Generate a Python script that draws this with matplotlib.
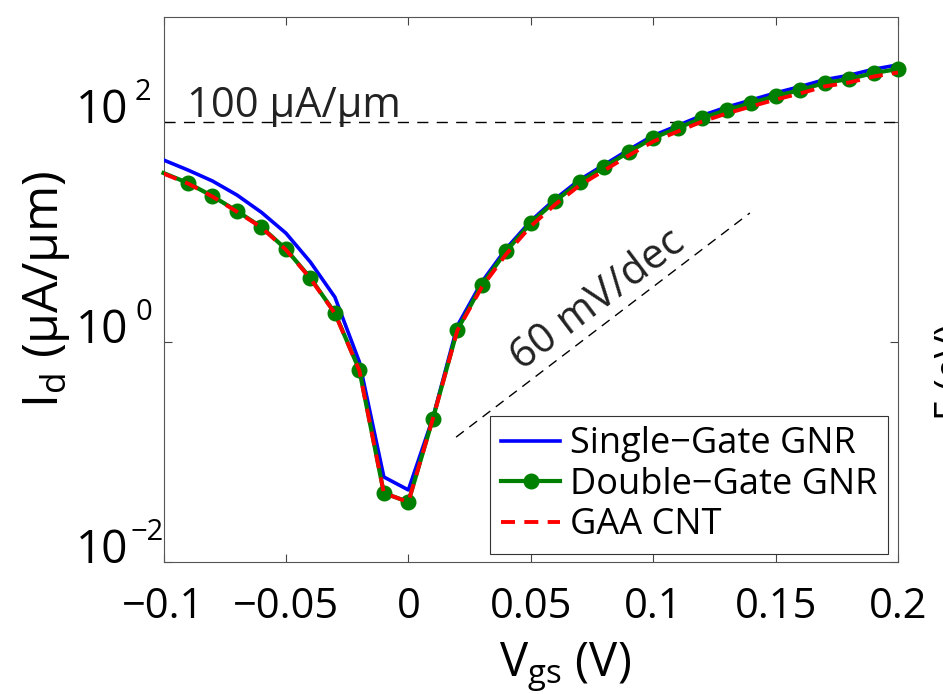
import matplotlib
matplotlib.use("Agg")
import matplotlib.pyplot as plt
from matplotlib.ticker import FixedLocator, NullLocator

plt.rcParams['font.family'] = ['Open Sans', 'DejaVu Sans']
plt.rcParams['mathtext.fontset'] = 'custom'
plt.rcParams['mathtext.rm'] = 'Open Sans'
plt.rcParams['mathtext.it'] = 'Open Sans:italic'
plt.rcParams['mathtext.bf'] = 'Open Sans:bold'

# ---------------- data ----------------
vgs = [-0.10, -0.09, -0.08, -0.07, -0.06, -0.05, -0.04, -0.03, -0.02, -0.01,
       0.00, 0.01, 0.02, 0.03, 0.04, 0.05, 0.06, 0.07, 0.08, 0.09,
       0.10, 0.11, 0.12, 0.13, 0.14, 0.15, 0.16, 0.17, 0.18, 0.19, 0.20]

single_gate = [45.2, 36.6, 29.1, 21.7, 15.1, 9.77, 5.33, 2.56, 0.66, 0.0593,
               0.0452, 0.204, 1.40, 3.51, 7.08, 12.6, 20.0, 29.9, 40.9, 56.0,
               75.3, 92.9, 114.8, 136.5, 158.5, 184.0, 210.0, 242.7, 266.0, 302.0, 331.0]

double_gate = [34.4, 27.9, 21.2, 15.5, 11.1, 7.0, 3.82, 1.84, 0.556, 0.0424,
               0.0351, 0.200, 1.285, 3.30, 6.71, 12.1, 19.1, 28.5, 39.0, 53.3,
               71.6, 88.1, 108.6, 128.5, 148.9, 172.2, 195.4, 226.5, 246.0, 278.6, 303.4]

gaa_cnt = [34.0, 27.6, 21.0, 15.3, 11.0, 6.9, 3.78, 1.82, 0.55, 0.0424,
           0.0351, 0.200, 1.27, 3.15, 6.3, 11.3, 17.8, 26.6, 36.3, 49.6,
           66.5, 82.0, 101.0, 119.5, 138.5, 160.0, 181.7, 210.6, 228.8, 259.0, 282.0]

series_labels = ['Single\u2212Gate GNR', 'Double\u2212Gate GNR', 'GAA CNT']

xticks = [-0.1, -0.05, 0, 0.05, 0.1, 0.15, 0.2]
xticklabels = ['\u22120.1', '\u22120.05', '0', '0.05', '0.1', '0.15', '0.2']
yticks = [1e-2, 1e0, 1e2]
ytick_exponents = ['\u22122', '0', '2']

ref_level = 100.0           # 100 uA/um reference
slope_x = [0.0195, 0.1395]  # 60 mV/dec guide line
slope_y = [0.1365, 14.9]

# ---------------- figure ----------------
fig = plt.figure(figsize=(9.43, 6.94), dpi=100)
ax = fig.add_axes([163.5 / 943, 1 - 562 / 694, (898 - 163.5) / 943, (562 - 17) / 694])

ax.set_yscale('log')
ax.set_xlim(-0.1, 0.2)
ax.set_ylim(1e-2, 10 ** 2.955)

ax.plot(vgs, single_gate, color=(0, 0, 1), lw=2.6, label=series_labels[0], zorder=3)
ax.plot(vgs, double_gate, color=(0, 0.5, 0), lw=3.0, marker='o', markersize=10.5,
        markevery=slice(1, None), label=series_labels[1], zorder=4, clip_on=False)
ax.plot(vgs, gaa_cnt, color=(1, 0, 0), lw=2.8, linestyle=(0, (3.6, 2.4)),
        label=series_labels[2], zorder=5)

ax.axhline(ref_level, color='black', lw=1.0, linestyle=(0, (8, 6)), zorder=2)
ax.plot(slope_x, slope_y, color='black', lw=1.0, linestyle=(0, (7, 5)), zorder=2)

ax.text(-0.0906, 10 ** 2.045, '100 \u00b5A/\u00b5m', fontsize=30, ha='left',
        va='baseline', color='#222222')
ax.text(0.0772, 10 ** 0.385, '60 mV/dec', fontsize=30, rotation=37,
        ha='center', va='center', color='#222222')

# ticks
ax.xaxis.set_major_locator(FixedLocator(xticks))
ax.set_xticklabels(xticklabels)
ax.yaxis.set_major_locator(FixedLocator(yticks))
ax.yaxis.set_minor_locator(NullLocator())
ax.tick_params(axis='both', which='major', direction='in', length=6, width=0.8,
               top=True, right=True, colors='#444444', labelcolor='black')
ax.tick_params(axis='x', labelsize=30, pad=17)
ax.tick_params(axis='y', labelleft=False)

# y tick labels drawn as "10" with a raised exponent
ytrans = ax.get_yaxis_transform()
for val, expo in zip(yticks, ytick_exponents):
    ax.annotate('10', xy=(0, val), xycoords=ytrans, xytext=(-25.6, -1.0),
                textcoords='offset points', ha='right', va='baseline',
                fontsize=33, annotation_clip=False)
    sup_x = -23.4 if expo.startswith('\u2212') else -20.5
    ax.annotate(expo, xy=(0, val), xycoords=ytrans, xytext=(sup_x, 15.8),
                textcoords='offset points', ha='left', va='baseline',
                fontsize=21, annotation_clip=False)

for sp in ax.spines.values():
    sp.set_color('#555555')
    sp.set_linewidth(0.8)

ax.set_xlabel(r'V$_{\mathrm{gs}}$ (V)', fontsize=34)
ax.set_ylabel(r'I$_{\mathrm{d}}$ ($\mathrm{\mu}$A/$\mathrm{\mu}$m)', fontsize=36)
ax.xaxis.set_label_coords(0.547, -0.145)
ax.yaxis.set_label_coords(-0.125, 0.5)

leg = ax.legend(loc='lower right', bbox_to_anchor=(0.986, 0.0147), borderaxespad=0,
                fontsize=26, frameon=True, fancybox=False, framealpha=1,
                edgecolor='#333333', handlelength=1.65, handletextpad=0.25,
                labelspacing=0.12, borderpad=0.3)
leg.get_frame().set_linewidth(0.8)

# partial label of the neighbouring panel at the right edge
fig.text(933 / 943, 1 - 372 / 694, 'E (eV)', fontsize=27, rotation=90,
         ha='left', va='center')

fig.savefig('out.png', dpi=100)
